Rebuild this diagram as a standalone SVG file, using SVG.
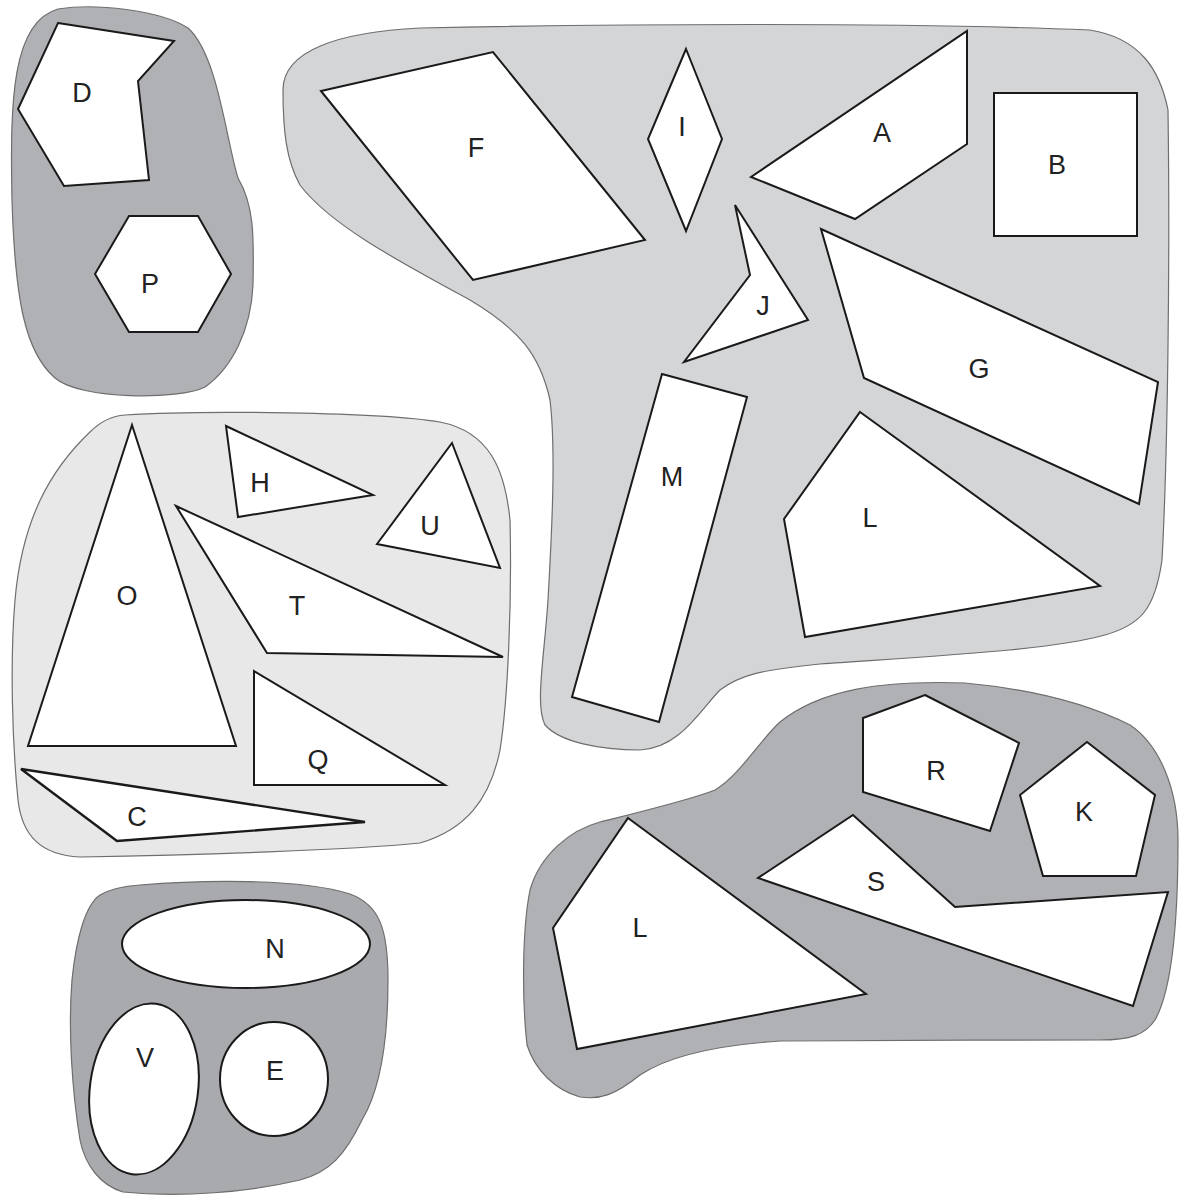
<svg xmlns="http://www.w3.org/2000/svg" width="1180" height="1199" viewBox="0 0 1180 1199">
<style>
.blob{stroke:#6e6e6e;stroke-width:1.2}
.dark{fill:#b0b1b4}
.mid{fill:#d4d5d7}
.light{fill:#e8e8e8}
.nve{fill:#a9aaad}
.shape{fill:#fff;stroke:#1a1a1a;stroke-width:2;stroke-linejoin:miter}
text{font-family:"Liberation Sans",Arial,sans-serif;font-size:27px;fill:#222;text-anchor:middle;dominant-baseline:central}
</style>
<rect width="1180" height="1199" fill="#fff"/>
<g id="blobs">
<path class="blob dark" d="M58,9 C95,3 160,10 188,28 C218,55 226,140 238,178 C254,205 254,235 253,285 C251,330 232,368 205,387 C180,400 80,400 55,378 C25,352 15,300 12,200 C10,100 12,22 58,9 Z"/>
<path class="blob mid" d="M283,90 C283,50 340,32 420,28 C600,24 900,22 1090,30 C1140,38 1160,70 1168,110 C1170,250 1168,450 1162,560 C1155,610 1140,625 1105,635 C1050,650 950,655 820,664 C760,670 740,675 720,690 C700,710 680,748 640,750 C600,750 560,742 545,725 C535,705 544,660 548,600 C552,530 556,450 550,400 C540,355 520,330 470,300 C400,262 330,225 300,185 C286,160 283,130 283,90 Z"/>
<path class="blob light" d="M125,415 C200,410 380,412 440,422 C490,432 505,470 510,520 C512,600 508,700 500,750 C490,800 465,830 420,843 C350,850 200,855 80,857 C40,855 22,835 18,800 C12,740 10,660 15,600 C22,520 50,470 90,432 C100,422 110,416 125,415 Z"/>
<path class="blob nve" d="M140,885 C200,880 300,878 350,894 C380,905 388,930 388,980 C388,1040 380,1090 362,1120 C345,1155 330,1172 300,1180 C250,1192 180,1198 123,1192 C100,1185 85,1165 80,1140 C72,1090 68,1030 72,980 C76,940 85,905 100,895 C112,888 125,886 140,885 Z"/>
<path class="blob dark" d="M780,722 C820,690 880,680 965,683 C1040,690 1090,705 1130,725 C1160,745 1178,790 1178,840 C1178,920 1172,990 1155,1020 C1145,1035 1130,1040 1100,1040 C1000,1040 850,1040 780,1041 C720,1045 670,1055 640,1075 C615,1095 600,1100 580,1097 C555,1090 535,1070 527,1045 C522,1000 522,930 530,890 C540,855 570,830 600,822 C640,812 690,800 715,790 C740,775 760,740 780,722 Z"/>
</g>
<g id="node-D"><polygon class="shape" points="58,23 174,41 138,81 149,180 64,186 18,109"/><text x="82" y="93">D</text></g>
<g id="node-P"><polygon class="shape" points="129,216 198,216 231,274 198,332 129,332 95,274"/><text x="150" y="284">P</text></g>
<g id="node-F"><polygon class="shape" points="321,91 493,52 645,240 473,280"/><text x="476" y="148">F</text></g>
<g id="node-I"><polygon class="shape" points="686,49 722,139 686,231 648,139"/><text x="682" y="127">I</text></g>
<g id="node-A"><polygon class="shape" points="967,31 967,144 855,219 751,177"/><text x="882" y="133">A</text></g>
<g id="node-B"><rect class="shape" x="994" y="93" width="143" height="143"/><text x="1057" y="165">B</text></g>
<g id="node-J"><polygon class="shape" points="735,205 808,320 684,362 750,275"/><text x="763" y="306">J</text></g>
<g id="node-G"><polygon class="shape" points="821,229 1158,382 1139,504 864,378"/><text x="979" y="369">G</text></g>
<g id="node-M"><polygon class="shape" points="662,374 747,397 659,722 572,697"/><text x="672" y="477">M</text></g>
<g id="node-L1"><polygon class="shape" points="860,412 1100,586 805,637 784,519"/><text x="870" y="518">L</text></g>
<g id="node-O"><polygon class="shape" points="132,425 236,746 28,746"/><text x="127" y="596">O</text></g>
<g id="node-H"><polygon class="shape" points="226,426 373,495 238,517"/><text x="260" y="483">H</text></g>
<g id="node-U"><polygon class="shape" points="452,443 500,568 377,544"/><text x="430" y="526">U</text></g>
<g id="node-T"><polygon class="shape" points="176,506 503,657 267,653"/><text x="297" y="606">T</text></g>
<g id="node-Q"><polygon class="shape" points="254,671 445,785 254,785"/><text x="318" y="760">Q</text></g>
<g id="node-C"><polygon class="shape" style="stroke-width:2.4" points="21,769 365,822 117,841"/><text x="137" y="817">C</text></g>
<g id="node-N"><ellipse class="shape" cx="246" cy="944" rx="124" ry="44"/><text x="275" y="949">N</text></g>
<g id="node-V"><ellipse class="shape" cx="144" cy="1089" rx="54" ry="86" transform="rotate(8 144 1089)"/><text x="145" y="1058">V</text></g>
<g id="node-E"><ellipse class="shape" cx="274" cy="1079" rx="54" ry="57"/><text x="275" y="1071">E</text></g>
<g id="node-R"><polygon class="shape" points="925,695 1019,743 990,831 863,792 863,718"/><text x="936" y="771">R</text></g>
<g id="node-K"><polygon class="shape" points="1087,742 1155,795 1136,876 1043,876 1020,795"/><text x="1084" y="812">K</text></g>
<g id="node-S"><polygon class="shape" points="853,815 955,907 1168,892 1133,1006 758,878"/><text x="876" y="882">S</text></g>
<g id="node-L2"><polygon class="shape" points="628,818 866,994 577,1049 553,928"/><text x="640" y="928">L</text></g>
<g id="connectors"></g>
</svg>
